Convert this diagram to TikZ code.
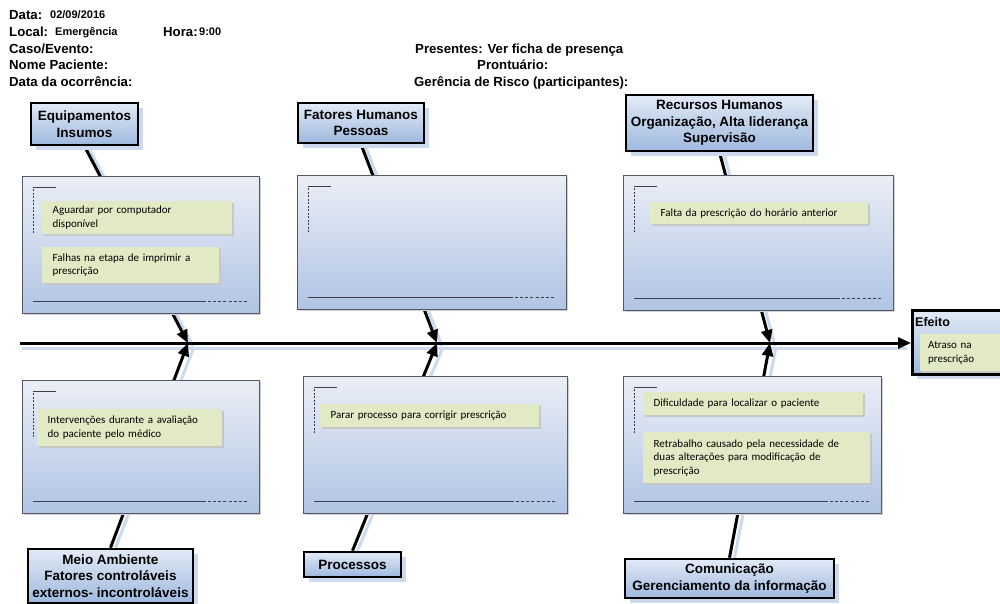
\documentclass[tikz,border=0pt]{standalone}
\usepackage{fontspec}
\setmainfont{Liberation Sans}
\newfontfamily\notefont[WordSpace=0.7]{Carlito}
\usetikzlibrary{arrows.meta,calc,backgrounds}

\definecolor{panelTop}{RGB}{234,238,246}
\definecolor{panelBot}{RGB}{176,196,228}
\definecolor{catTop}{RGB}{226,234,246}
\definecolor{catBot}{RGB}{158,185,222}
\definecolor{noteFill}{RGB}{226,233,197}
\definecolor{shadowBlue}{RGB}{204,217,238}
\definecolor{panelEdge}{RGB}{85,88,100}
\definecolor{markGrey}{RGB}{60,62,75}

\newcommand\panelmarks[1]{%
  \draw[markline] ($(#1.north west)+(11,11)$) -- ++(23,0);
  \draw[markline, dash pattern=on 2pt off 1.5pt] ($(#1.north west)+(11,13)$) -- ++(0,44);
  \draw[markline] ($(#1.south west)+(11,-12)$) -- ($(#1.south east)+(-54,-12)$);
  \draw[markline, dash pattern=on 3pt off 2.2pt] ($(#1.south east)+(-52,-12)$) -- ($(#1.south east)+(-13,-12)$);
}

\begin{document}
\begin{tikzpicture}[x=1pt,y=-1pt,
  hdr/.style={anchor=base west, inner sep=0pt, font=\bfseries\fontsize{13.2}{15}\selectfont},
  val/.style={anchor=base west, inner sep=0pt, font=\bfseries\fontsize{11}{13}\selectfont},
  catbox/.style={draw=black, line width=2.6pt, top color=catTop, bottom color=catBot,
    font=\bfseries\fontsize{13.5}{16.5}\selectfont, align=center, inner sep=0pt,
    preaction={fill=shadowBlue, transform canvas={xshift=5pt,yshift=-5pt}}},
  effbox/.style={draw=black, line width=2.6pt, top color=catTop, bottom color=catBot,
    anchor=north west, inner sep=0pt,
    preaction={fill=shadowBlue, transform canvas={xshift=5pt,yshift=-5pt}}},
  panel/.style={draw=panelEdge, line width=0.8pt, top color=panelTop, bottom color=panelBot,
    anchor=north west, inner sep=0pt,
    preaction={fill=black!18, transform canvas={xshift=2pt,yshift=-2pt}}},
  notebox/.style={fill=noteFill, anchor=north west, align=left, inner xsep=10.5pt, inner ysep=0pt,
    font=\notefont\fontsize{11}{13.5}\selectfont,
    preaction={fill=black!22, transform canvas={xshift=1.8pt,yshift=-1.8pt}}},
  markline/.style={draw=markGrey, line width=1pt},
  bone/.style={draw=black, line width=3pt, -{Triangle[length=13pt,width=11pt]}},
  boneshadow/.style={draw=shadowBlue, line width=3pt},
]
\useasboundingbox (0,0) rectangle (1000,604);

% header
\node[hdr] (hData) at (9,20) {Data:};
\node[val] (vData) at (50,19) {02/09/2016};
\node[hdr] (hLocal) at (9,36.7) {Local:};
\node[val] (vLocal) at (55,35.7) {Emergência};
\node[hdr] (hHora) at (163,36.7) {Hora:};
\node[val] (vHora) at (199,35.7) {9:00};
\node[hdr] (hCaso) at (9,53.5) {Caso/Evento:};
\node[hdr] (hNome) at (9,70) {Nome Paciente:};
\node[hdr] (hDataOc) at (9,86.7) {Data da ocorrência:};
\node[hdr] (hPres) at (415,54) {Presentes: Ver ficha de presença};
\node[hdr] (hPront) at (477,70) {Prontuário:};
\node[hdr] (hGer) at (414,87) {Gerência de Risco (participantes):};

% panels
\node[panel, minimum width=237pt, minimum height=137pt] (p1) at (22,176) {};
\node[panel, minimum width=269pt, minimum height=134pt] (p2) at (297,175) {};
\node[panel, minimum width=270pt, minimum height=135pt] (p3) at (623,175) {};
\node[panel, minimum width=237pt, minimum height=133pt] (p4) at (22,380) {};
\node[panel, minimum width=264pt, minimum height=137pt] (p5) at (303,376) {};
\node[panel, minimum width=258pt, minimum height=137pt] (p6) at (623,376) {};
\panelmarks{p1}\panelmarks{p2}\panelmarks{p3}\panelmarks{p4}\panelmarks{p5}\panelmarks{p6}

% notes
\node[notebox, text width=169pt, minimum height=33pt] (n1) at (42,201) {Aguardar por computador\\disponível};
\node[notebox, text width=156pt, minimum height=36pt] (n2) at (42,247) {Falhas na etapa de imprimir a\\prescrição};
\node[notebox, text width=197pt, minimum height=22pt] (n3) at (650,202) {Falta da prescrição do horário anterior};
\node[notebox, text width=164pt, minimum height=37pt] (n4) at (37,409) {Intervenções durante a avaliação\\do paciente pelo médico};
\node[notebox, text width=198pt, minimum height=23pt] (n5) at (320,404) {Parar processo para corrigir prescrição};
\node[notebox, text width=199pt, minimum height=23pt] (n6) at (643,392) {Dificuldade para localizar o paciente};
\node[notebox, text width=206pt, minimum height=51pt] (n7) at (643,432) {Retrabalho causado pela necessidade de\\duas alterações para modificação de\\prescrição};

% category boxes
\node[catbox, minimum width=107pt, minimum height=42pt] (c1) at (84.5,124) {Equipamentos\\Insumos};
\node[catbox, minimum width=126pt, minimum height=40pt] (c2) at (361,123) {Fatores Humanos\\Pessoas};
\node[catbox, minimum width=187pt, minimum height=56pt] (c3) at (719.5,123) {Recursos Humanos\\Organização, Alta liderança\\Supervisão};
\node[catbox, minimum width=165pt, minimum height=54pt] (c4) at (110.5,576) {Meio Ambiente\\Fatores controláveis\\externos- incontroláveis};
\node[catbox, minimum width=97pt, minimum height=25pt] (c5) at (352.5,564.5) {Processos};
\node[catbox, minimum width=209pt, minimum height=39pt] (c6) at (729.5,578.5) {Comunicação\\Gerenciamento da informação};

% effect
\node[effbox, minimum width=100pt, minimum height=64pt] (ef) at (911,309) {};
\node[anchor=west, inner sep=0pt, font=\bfseries\fontsize{12.5}{14}\selectfont] (efl) at (915,322.5) {Efeito};
\node[notebox, inner xsep=8pt, text width=70pt, minimum height=37pt] (n8) at (920,334) {Atraso na\\prescrição};

% spine coordinates
\coordinate (s0) at (20,343);
\coordinate (s1) at (911,343);
\coordinate (j1) at (188,343);
\coordinate (j2) at (437,343);
\coordinate (j3) at (770,343);

\begin{scope}[on background layer]
  \draw[boneshadow] ([shift={(2,5)}]s0) -- ([shift={(-4,5)}]s1);
  \draw[boneshadow] ([shift={(5,3)}]c1.south) -- ([shift={(5,3)}]j1);
  \draw[boneshadow] ([shift={(5,3)}]c2.south) -- ([shift={(5,3)}]j2);
  \draw[boneshadow] ([shift={(5,3)}]c3.south) -- ([shift={(5,3)}]j3);
  \draw[boneshadow] ([shift={(5,0)}]c4.north) -- ([shift={(6,4)}]j1);
  \draw[boneshadow] ([shift={(5,0)}]c5.north) -- ([shift={(6,4)}]j2);
  \draw[boneshadow] ([shift={(5,0)}]c6.north) -- ([shift={(6,4)}]j3);
  \draw[bone] (s0) -- (s1);
  \draw[bone] (c1.south) -- (j1);
  \draw[bone] (c2.south) -- (j2);
  \draw[bone] (c3.south) -- (j3);
  \draw[bone] (c4.north) -- (j1);
  \draw[bone] (c5.north) -- (j2);
  \draw[bone] (c6.north) -- (j3);
\end{scope}
\end{tikzpicture}
\end{document}
